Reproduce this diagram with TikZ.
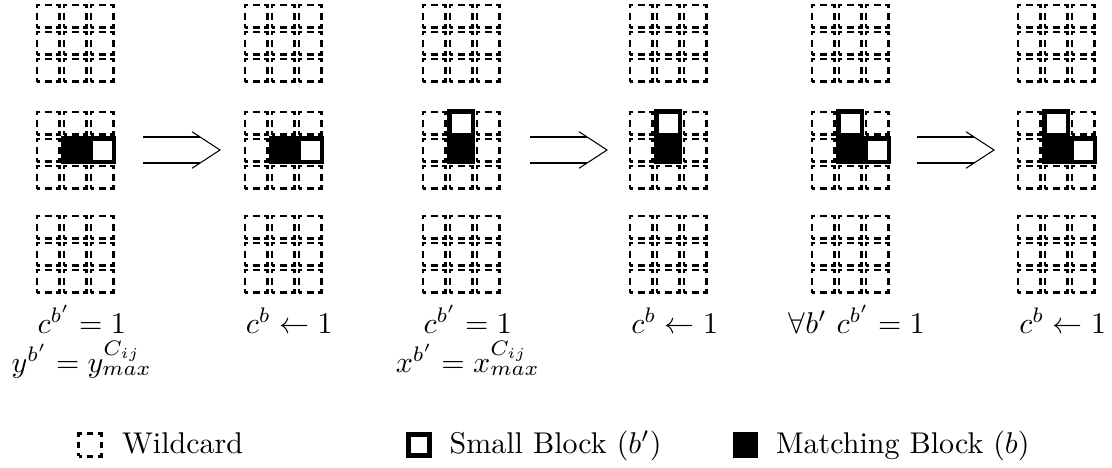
\documentclass[tikz,border=0pt]{standalone}
\usepackage{tikz,amsmath}
\usetikzlibrary{calc,positioning}

\tikzstyle{wild} = [draw, rectangle, minimum size=7.5pt, inner sep=0pt, line width=0.85pt, dash pattern=on 2.2pt off 1.55pt, dash phase=1.1pt]
\tikzstyle{small} = [draw, rectangle, minimum size=7.9pt, inner sep=0pt, line width=1.4pt, fill=white]
\tikzstyle{match} = [small, fill=black]
\tikzstyle{bar} = [line width=0.7pt]
\tikzstyle{head} = [line width=0.35pt]
\tikzstyle{lab} = [align=center, anchor=base]
\tikzstyle{legtext} = [text height=1.5ex, text depth=.25ex]

% 3x3 wildcards: upper left x, y and a name
\newcommand{\wildgrid}[3]{%
  \foreach \i in {0,1,2}
    \foreach \j in {0,1,2}
      \node[wild] (#3-\i\j) at (#1+11.25+27*\i, #2+11.25+27*\j) {};
}
% long double arrow between two coordinates
\newcommand{\bigimplies}[2]{%
  \draw[bar] ($(#1)+(0,-13)$) -- ($(#2)+(-19.6,-13)$);
  \draw[bar] ($(#1)+(0,13)$) -- ($(#2)+(-19.6,13)$);
  \draw[head] ($(#2)+(-28,-18.3)$) -- (#2) -- ($(#2)+(-28,18.3)$);
}

\begin{document}
\begin{tikzpicture}[x=0.3333pt, y=-0.3333pt]
    \useasboundingbox (0,0) rectangle (1112,467);

    \foreach \x/\n in {37/1,245/2,423/3,630/4,812/5,1018/6} {
        \wildgrid{\x}{5}{t\n}
        \wildgrid{\x}{112}{m\n}
        \wildgrid{\x}{216}{b\n}
    }

    % blocks
    \node[small] (sb1) at (m1-21) {};
    \node[match] (mb1) at (m1-11) {};
    \node[small] (sb2) at (m2-21) {};
    \node[match] (mb2) at (m2-11) {};
    \node[small] (sb3) at (m3-10) {};
    \node[match] (mb3) at (m3-11) {};
    \node[small] (sb4) at (m4-10) {};
    \node[match] (mb4) at (m4-11) {};
    \node[small] (sb5) at (m5-10) {};
    \node[small] (sc5) at (m5-21) {};
    \node[match] (mb5) at (m5-11) {};
    \node[small] (sb6) at (m6-10) {};
    \node[small] (sc6) at (m6-21) {};
    \node[match] (mb6) at (m6-11) {};

    \coordinate (a1) at (143,150);
    \coordinate (a1e) at (220,150);
    \coordinate (a2) at (530,150);
    \coordinate (a2e) at (607,150);
    \coordinate (a3) at (917,150);
    \coordinate (a3e) at (994,150);
    \bigimplies{a1}{a1e}
    \bigimplies{a2}{a2e}
    \bigimplies{a3}{a3e}

    % two-line labels sit on the baseline of their last line
    \node[lab] (l1) at (81.75,372) {$c^{b'} = 1$\\[1pt]$y^{b'} = y^{C_{ij}}_{max}$};
    \node[lab] (l2) at (289.25,333) {$c^b \leftarrow 1$};
    \node[lab] (l3) at (467.75,372) {$c^{b'} = 1$\\[1pt]$x^{b'} = x^{C_{ij}}_{max}$};
    \node[lab] (l4) at (674.75,333) {$c^b \leftarrow 1$};
    \node[lab] (l5) at (856.75,333) {$\forall b'\ c^{b'} = 1$};
    \node[lab] (l6) at (1062.75,333) {$c^b \leftarrow 1$};

    % legend
    \node[wild] (lw) at (90,445) {};
    \node[legtext, right=3pt of lw] (tw) {Wildcard};
    \node[small, minimum size=7pt] (ls) at (419,445) {};
    \node[legtext, right=2.5pt of ls] (ts) {Small Block ($b'$)};
    \node[match, minimum size=7pt] (lm) at (745.5,445) {};
    \node[legtext, right=2.5pt of lm] (tm) {Matching Block ($b$)};
\end{tikzpicture}
\end{document}
